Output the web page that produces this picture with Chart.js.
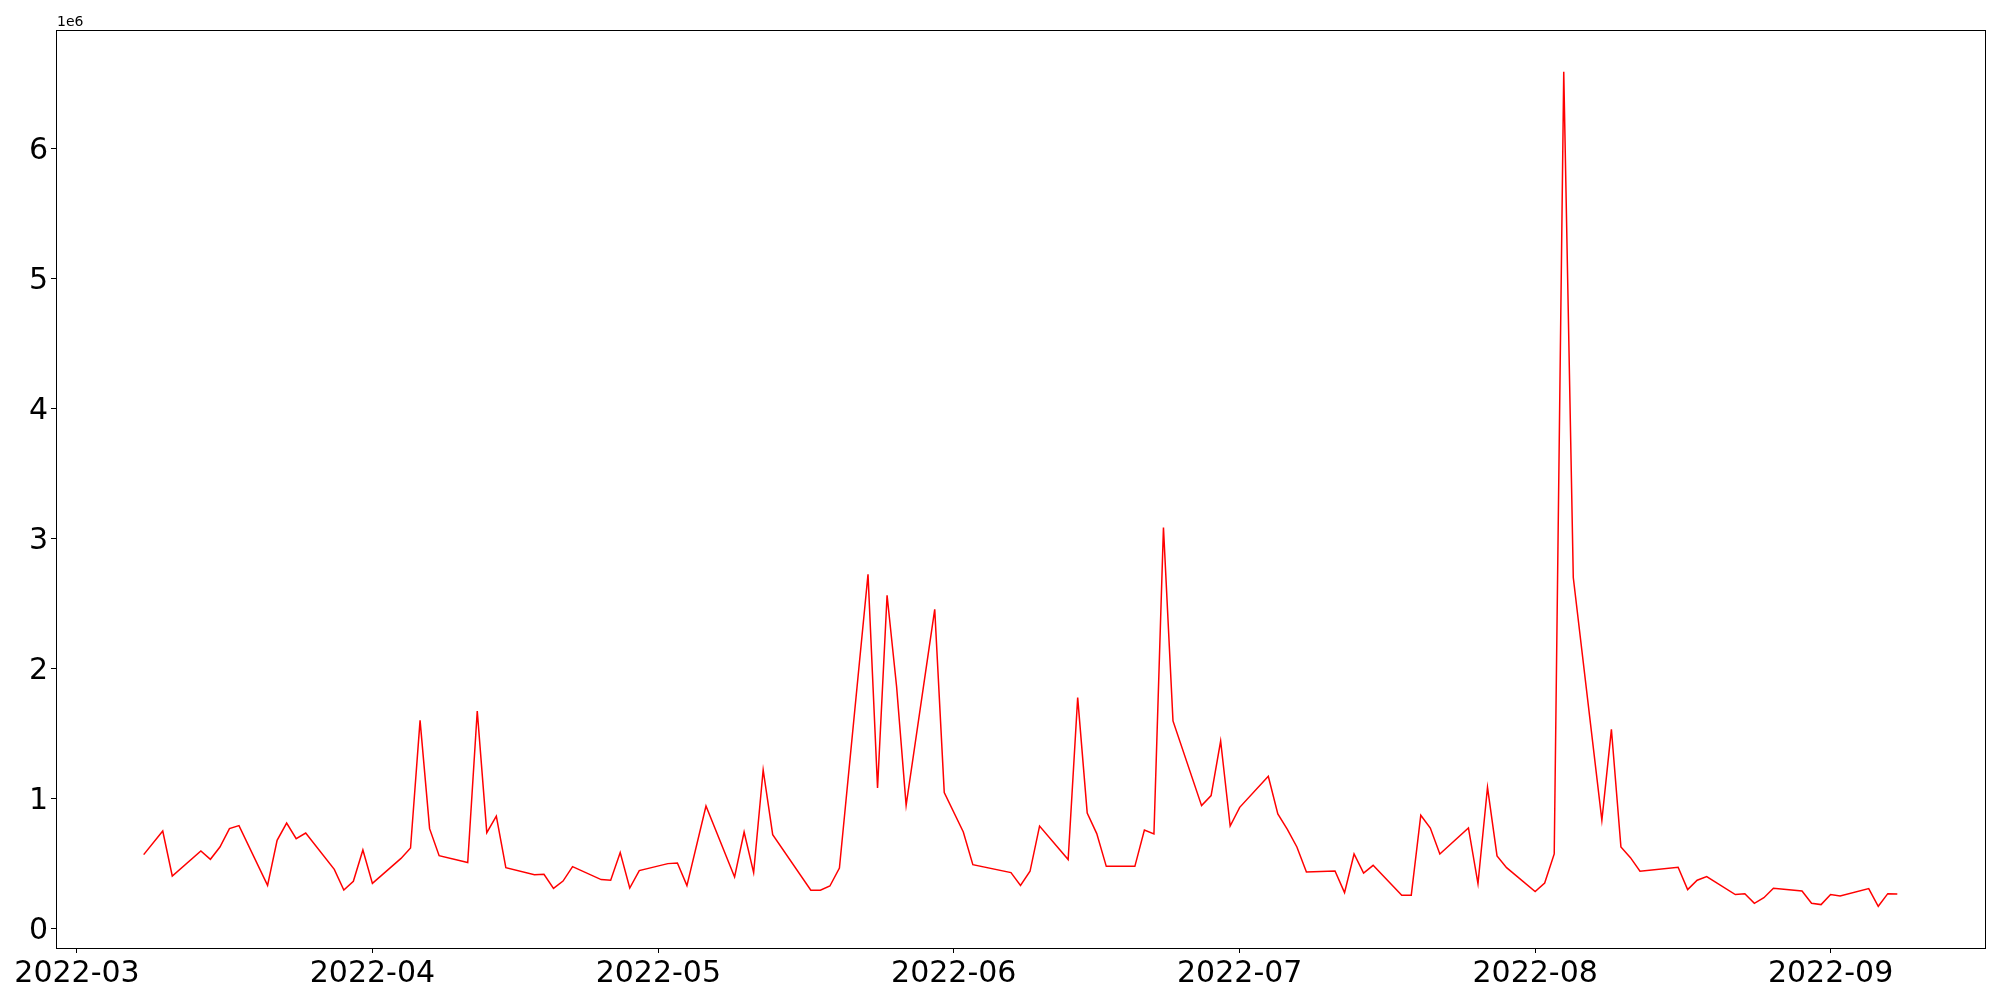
<!DOCTYPE html>
<html>
<head>
<meta charset="utf-8">
<script src="https://cdn.jsdelivr.net/npm/chart.js@4/dist/chart.umd.min.js"></script>
<style>
  body { margin: 0; background: #fff; }
</style>
</head>
<body>
<canvas id="chart" width="2000" height="1000"></canvas>
<script>
// dates of the series (trading days)
const dates = [
  '2022-03-08','2022-03-10','2022-03-11','2022-03-14','2022-03-15','2022-03-16','2022-03-17','2022-03-18',
  '2022-03-21','2022-03-22','2022-03-23','2022-03-24','2022-03-25','2022-03-28','2022-03-29','2022-03-30',
  '2022-03-31','2022-04-01','2022-04-04','2022-04-05','2022-04-06','2022-04-07','2022-04-08','2022-04-11',
  '2022-04-12','2022-04-13','2022-04-14','2022-04-15','2022-04-18','2022-04-19','2022-04-20','2022-04-21',
  '2022-04-22','2022-04-25','2022-04-26','2022-04-27','2022-04-28','2022-04-29','2022-05-02','2022-05-03',
  '2022-05-04','2022-05-06','2022-05-09','2022-05-10','2022-05-11','2022-05-12','2022-05-13','2022-05-17',
  '2022-05-18','2022-05-19','2022-05-20','2022-05-23','2022-05-24','2022-05-25','2022-05-26','2022-05-27',
  '2022-05-30','2022-05-31','2022-06-02','2022-06-03','2022-06-07','2022-06-08','2022-06-09','2022-06-10',
  '2022-06-13','2022-06-14','2022-06-15','2022-06-16','2022-06-17','2022-06-20','2022-06-21','2022-06-22',
  '2022-06-23','2022-06-24','2022-06-27','2022-06-28','2022-06-29','2022-06-30','2022-07-01','2022-07-04',
  '2022-07-05','2022-07-06','2022-07-07','2022-07-08','2022-07-11','2022-07-12','2022-07-13','2022-07-14',
  '2022-07-15','2022-07-18','2022-07-19','2022-07-20','2022-07-21','2022-07-22','2022-07-25','2022-07-26',
  '2022-07-27','2022-07-28','2022-07-29','2022-08-01','2022-08-02','2022-08-03','2022-08-04','2022-08-05',
  '2022-08-08','2022-08-09','2022-08-10','2022-08-11','2022-08-12','2022-08-16','2022-08-17','2022-08-18',
  '2022-08-19','2022-08-22','2022-08-23','2022-08-24','2022-08-25','2022-08-26','2022-08-29','2022-08-30',
  '2022-08-31','2022-09-01','2022-09-02','2022-09-05','2022-09-06','2022-09-07','2022-09-08'
];

const values = [
  569000, 751000, 405000, 597000, 533000, 628000, 769000, 792000,
  333000, 679000, 812000, 692000, 735000, 456000, 297000, 364000,
  605000, 348000, 540000, 620000, 1602000, 769000, 561000, 508000,
  1674000, 738000, 866000, 469000, 415000, 418000, 310000, 366000,
  477000, 377000, 372000, 585000, 312000, 446000, 500000, 505000,
  331000, 943000, 397000, 743000, 431000, 1220000, 723000, 295000,
  295000, 328000, 466000, 2725000, 1082000, 2564000, 1860000, 948000,
  2456000, 1046000, 743000, 492000, 431000, 333000, 441000, 789000,
  531000, 1777000, 889000, 731000, 479000, 479000, 758000, 728000,
  3085000, 1597000, 946000, 1023000, 1443000, 789000, 933000, 1172000,
  882000, 764000, 628000, 436000, 443000, 277000, 574000, 428000,
  487000, 256000, 256000, 872000, 774000, 574000, 774000, 346000,
  1087000, 559000, 469000, 285000, 351000, 574000, 6590000, 2700000,
  833000, 1533000, 628000, 546000, 441000, 472000, 300000, 372000,
  400000, 262000, 269000, 195000, 238000, 310000, 289000, 195000,
  185000, 262000, 251000, 308000, 172000, 269000, 266000
];

const xTickLabels = ['2022-03','2022-04','2022-05','2022-06','2022-07','2022-08','2022-09'];
const yTickValues = [0, 1, 2, 3, 4, 5, 6];
const yExponent = '1e6';

const DAY = 86400000;
function dayNum(s) { return Date.parse(s) / DAY; }

const points = dates.map((d, i) => ({ x: dayNum(d), y: values[i] }));
const xs = points.map(p => p.x);
const xMin = Math.min(...xs), xMax = Math.max(...xs);
const yMinD = Math.min(...values), yMaxD = Math.max(...values);
const xPad = (xMax - xMin) * 0.05, yPad = (yMaxD - yMinD) * 0.05;

const frame = {
  id: 'frame',
  afterDraw(chart) {
    const { ctx, chartArea: a } = chart;
    ctx.save();
    ctx.strokeStyle = '#000';
    ctx.lineWidth = 1;
    ctx.strokeRect(Math.round(a.left) + 0.5, Math.round(a.top) + 0.5,
      Math.round(a.right - a.left), Math.round(a.bottom - a.top));
    ctx.fillStyle = '#000';
    ctx.font = '14px "DejaVu Sans"';
    ctx.textAlign = 'left';
    ctx.textBaseline = 'alphabetic';
    ctx.fillText(yExponent, a.left + 1, a.top - 4);
    ctx.restore();
  }
};

new Chart(document.getElementById('chart'), {
  type: 'line',
  data: {
    datasets: [{
      data: points,
      borderColor: 'red',
      borderWidth: 1.5,
      pointRadius: 0,
      tension: 0,
      fill: false
    }]
  },
  options: {
    responsive: false,
    animation: false,
    layout: { padding: { top: 30, right: 15, left: 0, bottom: 0 } },
    plugins: { legend: { display: false }, tooltip: { enabled: false } },
    scales: {
      x: {
        type: 'linear',
        min: xMin - xPad,
        max: xMax + xPad,
        afterBuildTicks: s => { s.ticks = xTickLabels.map(l => ({ value: dayNum(l + '-01') })); },
        afterFit: s => { s.height = 52; },
        grid: { drawOnChartArea: false, color: '#000', tickLength: 5, lineWidth: 1 },
        border: { display: false },
        ticks: {
          color: '#000',
          font: { family: 'DejaVu Sans', size: 30 },
          padding: 3,
          maxRotation: 0,
          autoSkip: false,
          callback: (v, i) => xTickLabels[i]
        }
      },
      y: {
        min: yMinD - yPad,
        max: yMaxD + yPad,
        afterBuildTicks: s => { s.ticks = yTickValues.map(v => ({ value: v * 1e6 })); },
        afterFit: s => { s.width = 56; },
        grid: { drawOnChartArea: false, color: '#000', tickLength: 5, lineWidth: 1 },
        border: { display: false },
        ticks: {
          color: '#000',
          font: { family: 'DejaVu Sans', size: 30 },
          padding: 3,
          labelOffset: 3,
          autoSkip: false,
          callback: v => String(v / 1e6)
        }
      }
    }
  },
  plugins: [frame]
});
</script>
</body>
</html>
